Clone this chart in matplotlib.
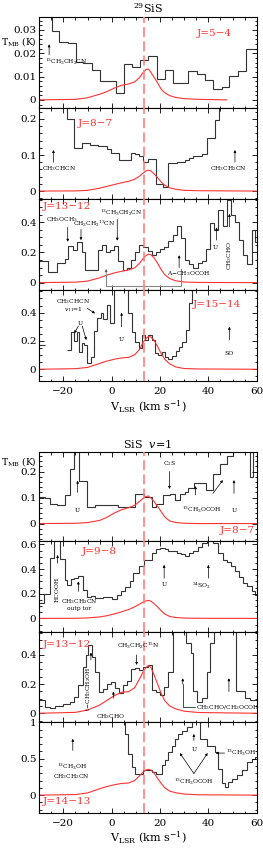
import matplotlib
matplotlib.use("Agg")
import matplotlib.pyplot as plt
from matplotlib.ticker import MultipleLocator, FuncFormatter

plt.rcParams['font.family'] = ['DejaVu Serif']
plt.rcParams['mathtext.fontset'] = 'dejavuserif'

# velocidade sistemica (linha tracejada)
V_SYS = 13.4

# grelha de velocidades do modelo (curva vermelha)
model_v = [-30, -15, -10, -5, -2, 1, 4, 7, 9.5, 11.5, 13, 14.2, 15.2, 16.2, 17.5, 19, 20.5, 22, 24, 26.5, 30, 36, 60]
model_v1 = [-30, -15, -10, -5, -2, 1, 4, 7, 9.5, 11.5, 13, 14.2, 15.2, 16.2, 17.5, 19, 20.5, 22, 24, 26.5, 30, 36, 47.6]

# 29SiS J=5-4
e1 = [-30, -24.8, -21.7, -18.2, -14.8, -11.7, -8.3, -4.8, -1.4, 1.8, 5.1, 8.6, 11.7, 15.2, 18.6, 22.1, 25.2,
      31.7, 35.2, 38.6, 42.1, 45.5, 48.7, 52.1, 55.6, 60]
t1 = [0.040, 0.0293, 0.0246, 0.0243, 0.0164, 0.0160, 0.0129, 0.0081, 0.0079, 0.0031, 0.0153, 0.0139, 0.0171,
      0.0190, 0.0089, 0.0129, 0.0071, 0.0124, 0.0111, 0.0086, 0.0046, 0.0057, 0.0103, 0.0124, 0.0220]
m1 = [0, 0.0002, 0.0009, 0.0024, 0.0035, 0.005, 0.0062, 0.0068, 0.0077, 0.0095, 0.0117, 0.013, 0.0132, 0.0118,
      0.0097, 0.0073, 0.0045, 0.003, 0.0018, 0.001, 0.0005, 0.0002, 0]

# 29SiS J=8-7
e2 = [-30, -18.6, -15.6, -12.4, -9.0, -5.5, -2.1, -0.3, 3.0, 8.0, 9.7, 11.4, 13.1, 15.2, 18.3, 21.4, 23.4, 26.9,
      30.3, 32.1, 33.8, 37.2, 39.3, 42.8, 44.6, 60]
t2 = [0.26, 0.20, 0.12, 0.132, 0.128, 0.125, 0.117, 0.107, 0.086, 0.107, 0.102, 0.098, 0.080, 0.089, 0.019, 0.012,
      0.077, 0.080, 0.086, 0.093, 0.098, 0.103, 0.146, 0.197, 0.26]
m2 = [0, 0.0005, 0.002, 0.008, 0.013, 0.018, 0.023, 0.027, 0.033, 0.041, 0.05, 0.056, 0.058, 0.056, 0.048, 0.037,
      0.025, 0.016, 0.009, 0.005, 0.002, 0.001, 0]

# 29SiS J=13-12
e3 = [-30, -26.2, -22.8, -19.3, -17.9, -16.1, -14.2, -12.4, -11.0, -9.7, -5.5, -4.1, -2.3, -0.7, 1.1, 2.8, 4.6, 6.2,
      8.0, 9.7, 11.4, 13.1, 15.2, 16.6, 18.3, 20.0, 21.8, 23.4, 25.2, 26.9, 28.6, 30.3, 32.1, 33.8, 35.6, 37.2, 39.0,
      40.7, 42.5, 44.1, 45.9, 47.6, 49.4, 51.0, 52.8, 54.5, 56.1, 57.9, 59.3, 60]
t3 = [0.142, 0.071, 0.133, 0.156, 0.244, 0.216, 0.271, 0.204, 0.082, 0.087, 0.216, 0.249, 0.200, 0.216, 0.242,
      0.142, 0.082, 0.100, 0.153, 0.204, 0.249, 0.238, 0.211, 0.180, 0.202, 0.220, 0.238, 0.278, 0.316, 0.378,
      0.293, 0.149, 0.122, 0.100, 0.131, 0.144, 0.220, 0.393, 0.349, 0.482, 0.378, 0.549, 0.449, 0.404, 0.282,
      0.182, 0.122, 0.349, 0.270]
m3 = [0, 0.003, 0.01, 0.032, 0.05, 0.064, 0.075, 0.084, 0.098, 0.128, 0.16, 0.18, 0.189, 0.185, 0.165, 0.128,
      0.086, 0.052, 0.027, 0.012, 0.004, 0.001, 0]

# 29SiS J=15-14 (com um buraco nos canais)
e4a = [-30, -27.8]
t4a = [0.17]
e4 = [-18.6, -17.0, -15.6, -14.5, -13.5, -12.4, -11.4, -10.1, -8.7, -7.3, -5.9, -4.6, -3.4, -2.1, -0.7, 0.9, 6.9,
      8.3, 9.7, 11.3, 12.4, 13.8, 15.2, 16.6, 17.9, 19.3, 20.7, 22.1, 23.4, 24.8, 26.4, 27.9, 29.2, 30.6, 32.0,
      33.4, 60]
t4 = [0.136, 0.266, 0.202, 0.261, 0.125, 0.184, 0.172, 0.047, 0.085, 0.273, 0.36, 0.395, 0.353, 0.454, 0.325,
      0.70, 0.395, 0.266, 0.195, 0.148, 0.242, 0.207, 0.242, 0.207, 0.113, 0.101, 0.125, 0.085, 0.071, 0.094,
      0.132, 0.160, 0.195, 0.278, 0.466, 0.70]
m4 = [0, 0.004, 0.013, 0.041, 0.058, 0.07, 0.08, 0.084, 0.102, 0.14, 0.19, 0.218, 0.23, 0.228, 0.205, 0.16, 0.11,
      0.07, 0.038, 0.016, 0.005, 0.002, 0]

# SiS v=1 J=8-7
e5 = [-30, -27.6, -25.5, -22.8, -19.3, -17.2, -15.6, -13.5, -10.1, -6.9, 2.8, 6.5, 9.7, 13.4, 16.6, 18.3, 21.4,
      24.1, 26.2, 28.3, 30.3, 31.7, 34.1, 39.0, 42.1, 44.8, 47.6, 50.3, 57.2, 58.6, 60]
t5 = [0.101, 0.098, 0.076, 0.073, 0.108, 0.21, 0.32, 0.165, 0.063, 0.07, 0.063, 0.065, 0.112, 0.104, 0.063, 0.076,
      0.108, 0.112, 0.09, 0.112, 0.122, 0.135, 0.155, 0.129, 0.19, 0.23, 0.26, 0.32, 0.18, 0.32]
m5 = [0, 0.001, 0.004, 0.012, 0.024, 0.04, 0.053, 0.061, 0.07, 0.085, 0.097, 0.104, 0.106, 0.098, 0.085, 0.066,
      0.045, 0.025, 0.01, 0.004, 0.001, 0, 0]

# SiS v=1 J=9-8
e6 = [-30, -27.9, -25.5, -23.7, -21.4, -19.3, -18.6, -17.0, -15.6, -13.8, -12.0, -10.1, -8.7, -6.9, -3.4, 0, 2.1,
      3.7, 5.5, 7.6, 9.0, 11.4, 13.4, 16.6, 18.2, 20.0, 22.1, 23.4, 26.9, 28.6, 30.3, 32.1, 33.8, 35.6, 37.2, 39.3,
      42.1, 44.1, 45.9, 47.6, 49.4, 51.0, 52.8, 54.5, 56.1, 57.9, 59.3, 60]
t6 = [0.125, 0.2, 0.493, 0.70, 0.479, 0.313, 0.272, 0.318, 0.326, 0.34, 0.232, 0.173, 0.179, 0.165, 0.173, 0.157,
      0.192, 0.219, 0.254, 0.30, 0.366, 0.425, 0.474, 0.527, 0.56, 0.573, 0.56, 0.546, 0.527, 0.522, 0.506, 0.533,
      0.546, 0.581, 0.608, 0.70, 0.608, 0.533, 0.474, 0.46, 0.425, 0.38, 0.334, 0.286, 0.259, 0.219, 0.192]
m6 = [0, 0.001, 0.004, 0.012, 0.022, 0.036, 0.053, 0.072, 0.094, 0.115, 0.132, 0.142, 0.146, 0.14, 0.12, 0.092,
      0.062, 0.035, 0.016, 0.007, 0.003, 0.001, 0]

# SiS v=1 J=13-12
e7 = [-30, -27.6, -25.5, -23.4, -20.0, -17.2, -15.6, -13.8, -12.0, -10.6, -9.7, -8.3, -6.9, -5.3, -3.8, -2.1, -0.3,
      1.4, 3.0, 4.8, 6.5, 8.0, 9.7, 11.4, 13.1, 15.2, 16.6, 18.3, 20.0, 21.8, 23.4, 25.2, 30.7, 32.7, 33.8, 35.2,
      37.2, 39.3, 40.7, 42.5, 51.4, 55.2, 57.2, 60]
t7 = [0.091, 0.046, 0.039, 0.05, 0.062, 0.08, 0.11, 0.194, 0.32, 0.40, 0.469, 0.389, 0.286, 0.149, 0.165, 0.20,
      0.217, 0.171, 0.142, 0.194, 0.224, 0.302, 0.309, 0.297, 0.315, 0.331, 0.16, 0.149, 0.126, 0.183, 0.286, 0.65,
      0.48, 0.41, 0.15, 0.08, 0.105, 0.286, 0.48, 0.65, 0.15, 0.105, 0.09]
m7 = [0, 0.006, 0.022, 0.056, 0.088, 0.12, 0.143, 0.148, 0.175, 0.235, 0.283, 0.315, 0.327, 0.315, 0.265, 0.2,
      0.135, 0.085, 0.05, 0.03, 0.014, 0.005, 0]

# SiS v=1 J=14-13
e8 = [-30, 5.5, 6.9, 8.3, 9.7, 13.1, 16.6, 18.3, 20.7, 22.1, 23.4, 24.8, 26.2, 27.6, 29.0, 31.0, 33.1, 36.6, 39.3,
      42.8, 44.1, 45.5, 46.9, 48.3, 49.7, 51.7, 53.8, 55.9, 57.9, 59.3, 60]
t8 = [1.2, 0.84, 0.57, 0.386, 0.296, 0.34, 0.318, 0.296, 0.409, 0.477, 0.59, 0.68, 0.77, 0.84, 0.886, 0.93, 1.2,
      0.77, 0.68, 0.59, 0.36, 0.16, 0.114, 0.18, 0.227, 0.273, 0.34, 0.455, 0.50, 0.52]
m8 = [0, 0.008, 0.03, 0.088, 0.118, 0.142, 0.16, 0.166, 0.2, 0.265, 0.315, 0.345, 0.355, 0.345, 0.305, 0.23, 0.16,
      0.1, 0.055, 0.033, 0.015, 0.005, 0]

W, H = 263.0, 848.0
HIST = '#333333'
RED = '#ff3333'
SMALL = 4.3

fig = plt.figure(figsize=(2.63, 8.48), dpi=100)


def painel(top, bottom, ylim, major, minor, xlabels):
    ax = fig.add_axes([39.2 / W, 1 - bottom / H, 217.5 / W, (bottom - top) / H])
    ax.set_xlim(-30, 60)
    ax.set_ylim(*ylim)
    ax.xaxis.set_major_locator(MultipleLocator(20))
    ax.xaxis.set_minor_locator(MultipleLocator(5))
    ax.yaxis.set_major_locator(MultipleLocator(major))
    ax.yaxis.set_minor_locator(MultipleLocator(minor))
    ax.yaxis.set_major_formatter(FuncFormatter(lambda y, p: '%g' % round(y, 4)))
    ax.tick_params(which='both', direction='in', top=True, right=True, width=0.6, labelsize=7.5)
    ax.tick_params(which='major', length=3.5)
    ax.tick_params(which='minor', length=1.8)
    ax.tick_params(axis='y', pad=2)
    ax.tick_params(axis='x', pad=4.5, labelbottom=xlabels)
    for s in ax.spines.values():
        s.set_linewidth(0.8)
    ax.axvline(V_SYS, color='#ff8080', lw=1.2, dashes=(6, 2.5), zorder=3)
    return ax


def espectro(ax, edges, vals, mv, mt):
    ax.stairs(vals, edges, baseline=None, color=HIST, lw=0.8)
    ax.plot(mv, mt, color=RED, lw=0.8)


def seta(ax, x0, y0, x1, y1, color='k'):
    ax.annotate('', xy=(x1, y1), xytext=(x0, y0),
                arrowprops=dict(arrowstyle='-|>', lw=0.5, color=color, mutation_scale=3.5,
                                shrinkA=0, shrinkB=0))


def txt(ax, x, y, s, **kw):
    kw.setdefault('ha', 'center')
    ax.text(x, y, s, fontsize=SMALL, va='center', **kw)


def jtxt(ax, x, y, s, ha='left'):
    ax.text(x, y, s, fontsize=7.5, color=RED, ha=ha, va='center')


# --- 29SiS ---
ax1 = painel(17, 108, (-0.0035, 0.0355), 0.01, 0.002, False)
espectro(ax1, e1, t1, model_v1, m1)
jtxt(ax1, 35.2, 0.0286, 'J=5−4')
txt(ax1, -27.6, 0.0164, r'$^{13}$CH$_3$CH$_2$CN', ha='left')
seta(ax1, -25.9, 0.0193, -25.9, 0.0238)
ax1.set_title(r'$^{29}$SiS', fontsize=8, pad=3)

ax2 = painel(108, 199, (-0.022, 0.2305), 0.1, 0.02, False)
espectro(ax2, e2, t2, model_v, m2)
jtxt(ax2, -14.2, 0.188, 'J=8−7')
txt(ax2, -21.8, 0.063, r'CH$_3$CHCN')
seta(ax2, -24.1, 0.08, -24.1, 0.114)
txt(ax2, 48.5, 0.063, r'CH$_3$CH$_2$CN')
seta(ax2, 51.0, 0.08, 51.0, 0.114)

ax3 = painel(199, 290, (-0.049, 0.555), 0.2, 0.05, False)
espectro(ax3, e3, t3, model_v, m3)
jtxt(ax3, -28.3, 0.504, 'J=13−12')
txt(ax3, -20.4, 0.42, r'CH$_3$OCH$_3$')
seta(ax3, -18.2, 0.367, -18.2, 0.271)
txt(ax3, -7.3, 0.387, r'CH$_3$CH$_2$$^{13}$CN')
seta(ax3, -12.7, 0.353, -12.7, 0.282)
txt(ax3, 4.1, 0.46, r'$^{13}$CH$_3$CH$_2$CN')
seta(ax3, 2.3, 0.42, 2.3, 0.278)
txt(ax3, 32.0, 0.06, r'A−CH$_3$OCOH')
seta(ax3, 27.9, 0.1, 27.9, 0.182)
txt(ax3, 42.8, 0.233, 'U')
seta(ax3, 43.4, 0.282, 43.4, 0.367)
txt(ax3, 48.7, 0.182, r'CH$_3$CHO', rotation=90)
seta(ax3, 48.7, 0.371, 48.7, 0.456)
ax3.plot([-2.3, -2.3, 28.6, 28.6], [0.06, -0.02, -0.02, 0.09], color='#888888', lw=0.8)
seta(ax3, -2.3, 0.06, -2.3, 0.09, color='#555555')

ax4 = painel(290, 381, (-0.083, 0.56), 0.2, 0.05, True)
ax4.stairs(t4a, e4a, baseline=None, color=HIST, lw=0.8)
espectro(ax4, e4, t4, model_v, m4)
jtxt(ax4, 33.5, 0.461, 'J=15−14')
txt(ax4, -16.0, 0.478, r'CH$_3$CHCN')
txt(ax4, -15.9, 0.424, r'$v_{11}$=1')
seta(ax4, -10.1, 0.43, -6.9, 0.395)
txt(ax4, -13.0, 0.325, 'U')
seta(ax4, -13.8, 0.305, -15.5, 0.254)
seta(ax4, -12.2, 0.305, -10.5, 0.207)
txt(ax4, 4.1, 0.207, 'U')
seta(ax4, 4.1, 0.3, 4.1, 0.4)
txt(ax4, 48.7, 0.108, 'SO')
seta(ax4, 48.7, 0.207, 48.7, 0.301)

# --- SiS v=1 ---
ax5 = painel(452, 541, (-0.067, 0.275), 0.1, 0.02, False)
espectro(ax5, e5, t5, model_v, m5)
ax5.set_title(r'SiS  $v$=1', fontsize=8, pad=3)
jtxt(ax5, 59.3, -0.027, 'J=8−7', ha='right')
txt(ax5, -14.1, 0.05, 'U')
seta(ax5, -14.1, 0.12, -14.1, 0.165)
txt(ax5, 23.9, 0.229, r'C$_2$S')
seta(ax5, 23.9, 0.2, 23.9, 0.133)
txt(ax5, 37.3, 0.052, r'$^{13}$CH$_3$OCOH')
seta(ax5, 34.7, 0.11, 34.7, 0.144)
seta(ax5, 41.9, 0.116, 46.0, 0.167)
txt(ax5, 50.6, 0.052, 'U')
seta(ax5, 50.6, 0.116, 50.6, 0.167)

ax6 = painel(541, 632, (-0.11, 0.627), 0.2, 0.05, False)
espectro(ax6, e6, t6, model_v, m6)
jtxt(ax6, -12.4, 0.541, 'J=9−8')
txt(ax6, -22.5, 0.232, 'HCOOH', rotation=90)
seta(ax6, -22.4, 0.447, -22.4, 0.514)
txt(ax6, -13.5, 0.133, r'CH$_3$CH$_2$CN')
txt(ax6, -13.5, 0.079, 'outp tor')
seta(ax6, -13.8, 0.219, -13.8, 0.30)
txt(ax6, 21.7, 0.273, 'U')
seta(ax6, 21.7, 0.326, 21.7, 0.434)
txt(ax6, 37.2, 0.26, r'$^{34}$SO$_2$')
seta(ax6, 40.0, 0.326, 40.0, 0.434)

ax7 = painel(632, 722, (-0.06, 0.557), 0.2, 0.05, False)
espectro(ax7, e7, t7, model_v, m7)
jtxt(ax7, -28.3, 0.469, 'J=13−12')
txt(ax7, -9.7, 0.17, r't−CH$_3$CH$_2$OH', rotation=90)
seta(ax7, -8.6, 0.366, -8.6, 0.416)
txt(ax7, 11.0, 0.462, r'CH$_3$CH$_2$C$^{15}$N')
seta(ax7, 10.3, 0.40, 10.3, 0.331)
txt(ax7, -0.3, -0.023, r'CH$_3$CHO')
seta(ax7, 0.7, 0.103, 0.7, 0.149)
txt(ax7, 35.0, 0.041, r'CH$_3$CHO/CH$_3$OCOH', ha='left')
ax7.plot([34.5, 29.4, 29.4], [0.041, 0.041, 0.2], color='k', lw=0.5)
seta(ax7, 29.4, 0.2, 29.4, 0.24)
seta(ax7, 48.5, 0.149, 48.5, 0.24)

ax8 = painel(722, 813, (-0.245, 1.003), 0.5, 0.1, True)
espectro(ax8, e8, t8, model_v, m8)
jtxt(ax8, -28.3, -0.09, 'J=14−13')
seta(ax8, -16.1, 0.614, -16.1, 0.773)
txt(ax8, -16.6, 0.386, r'$^{13}$CH$_3$OH')
txt(ax8, -16.6, 0.25, r'CH$_3$CH$_2$CN')
txt(ax8, 34.0, 0.623, 'U')
seta(ax8, 34.0, 0.75, 34.0, 0.84)
txt(ax8, 47.3, 0.577, r'$^{13}$CH$_3$OH', ha='left')
seta(ax8, 46.7, 0.577, 43.0, 0.577)
txt(ax8, 34.1, 0.18, r'$^{13}$CH$_3$OCOH')
seta(ax8, 34.0, 0.296, 28.2, 0.577)
seta(ax8, 34.0, 0.296, 39.7, 0.577)

# rotulos dos eixos
for yl in (41, 461):
    fig.text(1 / W, 1 - yl / H, r'T$_{\rm MB}$ (K)', fontsize=6.6, ha='left', va='center')
for xl in (407, 838):
    fig.text(148 / W, 1 - xl / H, r'V$_{\rm LSR}$ (km s$^{-1}$)', fontsize=8, ha='center', va='center')

fig.savefig('out.png', dpi=100)
